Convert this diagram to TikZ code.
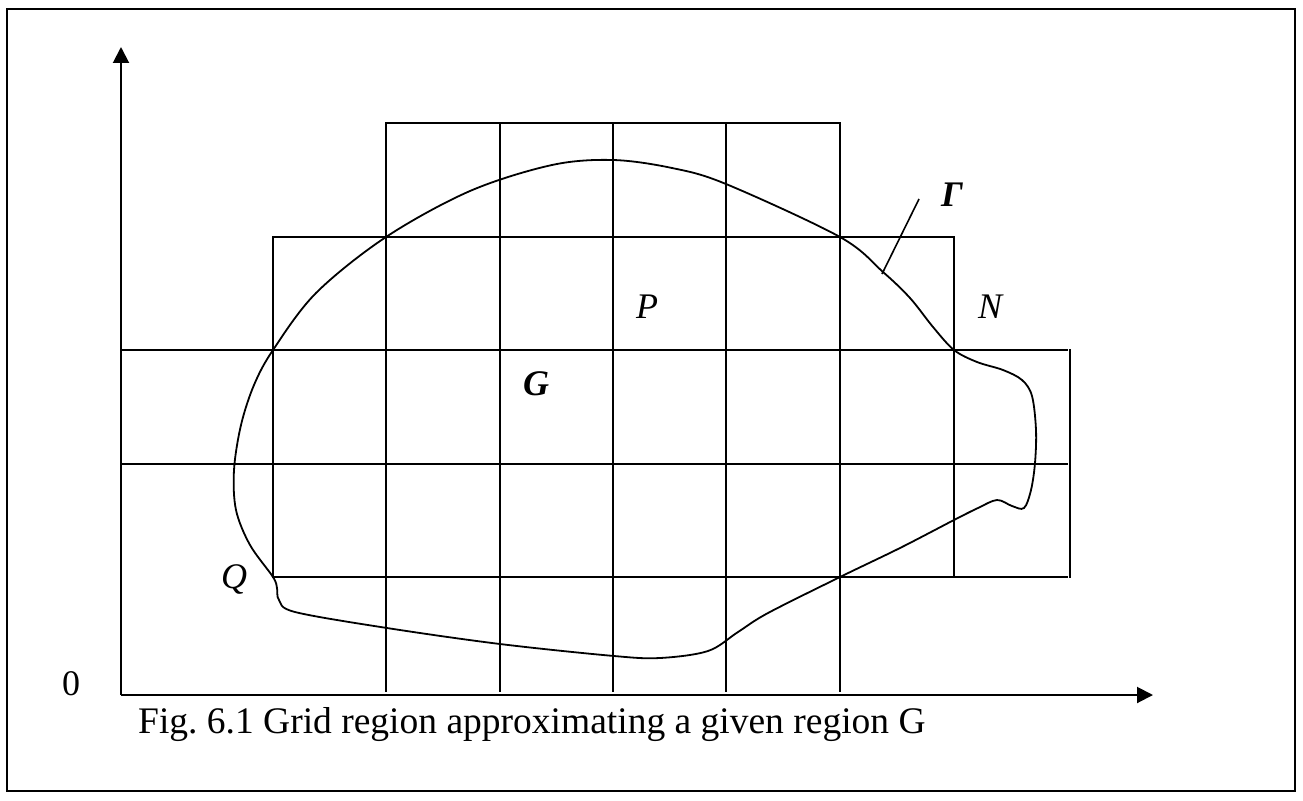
\documentclass[tikz,border=0pt]{standalone}
\usepackage{fontspec}
\setmainfont{Liberation Serif}
\usetikzlibrary{arrows.meta}
\frenchspacing
\begin{document}
\begin{tikzpicture}[x=1pt,y=-1pt,
  gridline/.style={line width=1.6pt, line cap=rect},
  frame/.style={line width=2pt},
  axis/.style={line width=2pt, -{Triangle[length=16pt,width=16pt]}},
  curve/.style={line width=1.8pt},
  lbl/.style={anchor=base, inner sep=0pt, font=\fontsize{36}{40}\selectfont\itshape},
  blbl/.style={anchor=base, inner sep=0pt, font=\fontsize{36}{40}\selectfont\bfseries\itshape},
  caption/.style={anchor=base west, inner sep=0pt, font=\fontsize{37.5}{42}\selectfont}]
\useasboundingbox (0,0) rectangle (1303,800);
\draw[frame] (7,9) rectangle (1295,791);
% grid
\draw[gridline] (386,123) -- (840,123);
\draw[gridline] (273,237) -- (954,237);
\draw[gridline] (121,350) -- (1067,350);
\draw[gridline] (121,464) -- (1067,464);
\draw[gridline] (273,577) -- (1067,577);
\draw[gridline] (273,237) -- (273,577);
\foreach \x in {386,500,613,726,840} \draw[gridline] (\x,123) -- (\x,691);
\draw[gridline] (954,237) -- (954,577);
\draw[gridline] (1070,350) -- (1070,577);
% boundary curve Gamma
\draw[curve] plot[smooth cycle, tension=0.55] coordinates {
 (613,160) (672,168) (726,184) (840,237) (883,272) (910,298) (933,327) (954,350)
 (977,362) (1003,370) (1022,380) (1032,396) (1036,430) (1035,463) (1031,490)
 (1024,508) (1012,506) (997,500) (978,508) (954,520) (900,548) (840,577)
 (768,613) (738,632) (708,651) (660,658) (614,656) (500,644) (387,628)
 (295,612) (279,600) (277,588) (273,577) (250,545) (236,510) (234,470)
 (241,425) (254,385) (273,350) (316,293) (386,237) (470,191) (552,165)};
% Gamma leader
\coordinate (lA) at (919,199);
\coordinate (lB) at (882,274);
\draw[line width=1.6pt] (lA) -- (lB);
% axes
\coordinate (O) at (121,695);
\coordinate (Ytip) at (121,47);
\coordinate (Xtip) at (1153,695);
\draw[axis] (O) -- (Ytip);
\draw[axis] (O) -- (Xtip);
% labels
\node[lbl] (P) at (647,318) {P};
\node[lbl] (N) at (990,318) {N};
\node[lbl] (Q) at (234,588) {Q};
\node[blbl] (G) at (536,395) {G};
\node[blbl] (Gam) at (952,206) {Γ};
\node[anchor=base, inner sep=0pt, font=\fontsize{36}{40}\selectfont] (zero) at (71,695) {0};
\node[caption] (cap) at (138,733) {Fig. 6.1 Grid region approximating a given region G};
\end{tikzpicture}
\end{document}
